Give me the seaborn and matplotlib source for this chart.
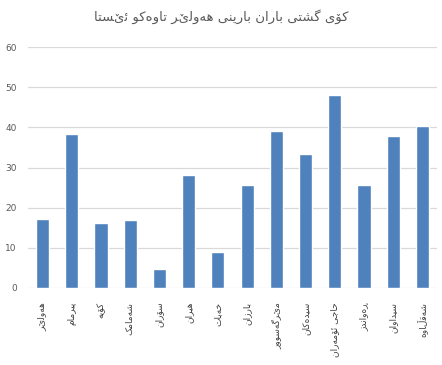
import matplotlib
matplotlib.use('Agg')
import matplotlib.pyplot as plt
import seaborn as sns
import pandas as pd

title = 'کۆی گشتی باران بارینی هەولێر تاوەکو ئێستا'
places = ['هەولێر', 'پیرمام', 'کۆیە', 'شەمامک', 'سۆران', 'هیران', 'خەبات',
          'بارزان', 'مێرگەسوور', 'سیدەکان', 'حاجی ئۆمەران', 'ڕەواندز',
          'سیداوان', 'شەقڵاوە']
rain = [17.2, 38.4, 16.2, 17.0, 4.8, 28.2, 9.0, 25.7, 39.1, 33.4, 48.1,
        25.7, 37.9, 40.4]

# matplotlib has no arabic shaping, so pick presentation forms by hand
# (isolated, final, initial, medial)
FORMS = {
    'ا': (0xFE8D, 0xFE8E), 'ب': (0xFE8F, 0xFE90, 0xFE91, 0xFE92),
    'ت': (0xFE95, 0xFE96, 0xFE97, 0xFE98), 'ج': (0xFE9D, 0xFE9E, 0xFE9F, 0xFEA0),
    'ح': (0xFEA1, 0xFEA2, 0xFEA3, 0xFEA4), 'خ': (0xFEA5, 0xFEA6, 0xFEA7, 0xFEA8),
    'د': (0xFEA9, 0xFEAA), 'ر': (0xFEAD, 0xFEAE), 'ز': (0xFEAF, 0xFEB0),
    'س': (0xFEB1, 0xFEB2, 0xFEB3, 0xFEB4), 'ش': (0xFEB5, 0xFEB6, 0xFEB7, 0xFEB8),
    'ق': (0xFED5, 0xFED6, 0xFED7, 0xFED8), 'ل': (0xFEDD, 0xFEDE, 0xFEDF, 0xFEE0),
    'م': (0xFEE1, 0xFEE2, 0xFEE3, 0xFEE4), 'ن': (0xFEE5, 0xFEE6, 0xFEE7, 0xFEE8),
    'ه': (0xFEE9, 0xFEEA, 0xFEEB, 0xFEEC), 'و': (0xFEED, 0xFEEE),
    'ئ': (0xFE89, 0xFE8A, 0xFE8B, 0xFE8C), 'پ': (0xFB56, 0xFB57, 0xFB58, 0xFB59),
    'ک': (0xFB8E, 0xFB8F, 0xFB90, 0xFB91), 'گ': (0xFB92, 0xFB93, 0xFB94, 0xFB95),
    'ی': (0xFBFC, 0xFBFD, 0xFBFE, 0xFBFF), 'ۆ': (0xFBD9, 0xFBDA),
    'ە': (0x06D5, 0xFEEA),
}
RIGHT_ONLY = set('اآأإدذرزژوەۆڕؤ')


def is_ar(c):
    return '\u0600' <= c <= '\u06FF'


def shape(text):
    out = []
    for i, c in enumerate(text):
        prev = text[i - 1] if i > 0 else ' '
        nxt = text[i + 1] if i + 1 < len(text) else ' '
        before = is_ar(prev) and prev not in RIGHT_ONLY and is_ar(c)
        after = is_ar(c) and c not in RIGHT_ONLY and is_ar(nxt)
        idx = 3 if before and after else 1 if before else 2 if after else 0
        f = FORMS.get(c)
        if f and idx < len(f):
            out.append(chr(f[idx]))
        elif f and idx == 3:
            out.append(chr(f[1]))
        elif f and idx == 2:
            out.append(chr(f[0]))
        else:
            out.append(c)
    return ''.join(out)[::-1]


df = pd.DataFrame({'place': [shape(p) for p in places], 'rain': rain})

sns.set_theme(style='white')
plt.rcParams['font.family'] = ['DejaVu Sans']

fig = plt.figure(figsize=(4.42, 3.65), dpi=100)
ax = fig.add_axes([0.063, 0.211, 0.926, 0.66])
sns.barplot(data=df, x='place', y='rain', color='#4f81bd', width=0.45,
            saturation=1, ax=ax, zorder=3)

ax.set_ylim(0, 60)
ax.set_yticks(range(0, 61, 10))
ax.yaxis.grid(True, color='#d9d9d9', linewidth=0.9, zorder=0)
for s in ax.spines.values():
    s.set_visible(False)
ax.set_xlabel('')
ax.set_ylabel('')
ax.tick_params(axis='y', length=0, labelsize=6.5, labelcolor='#595959', pad=8)
ax.tick_params(axis='x', length=0, labelsize=6.5, labelcolor='#404040', pad=10)
plt.setp(ax.get_xticklabels(), rotation=90, va='top', ha='center')

fig.text(0.5, 0.955, shape(title), ha='center', va='center',
         fontsize=9.5, color='#595959')

fig.savefig('out.png', dpi=100, facecolor='white')
